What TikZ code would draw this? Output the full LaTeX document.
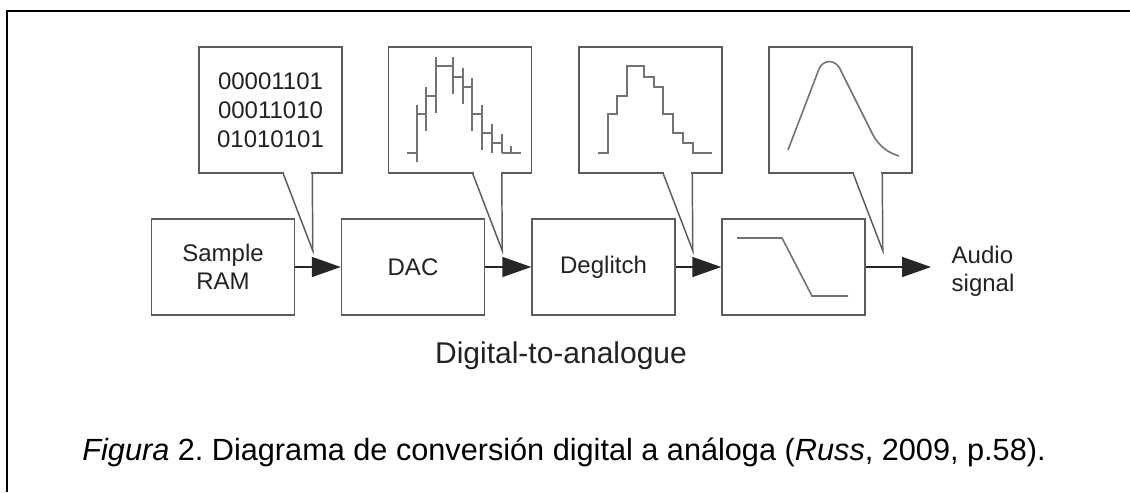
\documentclass[tikz,border=0pt]{standalone}
\usepackage{fontspec}
\setmainfont{Liberation Sans}
\frenchspacing
\usetikzlibrary{arrows.meta,calc}
\definecolor{boxgray}{rgb}{0.36,0.36,0.36}
\definecolor{curvegray}{rgb}{0.45,0.45,0.45}
\definecolor{txt}{rgb}{0.13,0.13,0.15}
\tikzset{
  blockbox/.style={draw=boxgray, line width=1.1pt, minimum width=107.25pt, minimum height=72pt, inner sep=0pt, text=txt, align=center, font=\fontsize{18}{21}\selectfont},
  bubble/.style={draw=boxgray, line width=1.1pt, minimum width=107.25pt, minimum height=94.5pt, inner sep=0pt, text=txt, align=center, font=\fontsize{18}{21.75}\selectfont},
  tailline/.style={draw=boxgray, line width=1.1pt, line join=miter},
  conn/.style={draw=black!85, line width=1.2pt, -{Triangle[length=21.75pt,width=15pt]}},
  sig/.style={draw=curvegray, line width=1.2pt},
  frame/.style={draw=black, line width=1.6pt},
}
\begin{document}
\begin{tikzpicture}[x=0.75pt,y=-0.75pt]
\useasboundingbox (0,0) rectangle (1130,492);
% outer frame (top and left)
\draw[frame] (7,492) -- (7,11) -- (1130,11);

% blocks
\node[blockbox] (ram) at (223,267) {Sample\\RAM};
\node[blockbox] (dac) at (413,267) {DAC};
\node[blockbox] (deg) at (603.5,267) {Deglitch};
\node[blockbox] (filt) at (793.5,267) {};
\coordinate (out) at (931,267);
\node[anchor=west, align=left, text=txt, font=\fontsize{18}{21}\selectfont] (audio) at (947,271) {Audio\\signal};

% connectors
\draw[conn] (ram) -- (dac);
\draw[conn] (dac) -- (deg);
\draw[conn] (deg) -- (filt);
\draw[conn] (filt) -- (out);

% bubbles
\node[bubble] (b1) at (270.5,110) {00001101\\00011010\\01010101};
\node[bubble] (b2) at (460,110) {};
\node[bubble] (b3) at (650.5,110) {};
\node[bubble] (b4) at (840.5,110) {};

\foreach \b in {b1,b2,b3,b4}{
  \draw[white, line width=2.2pt] ($(\b.south west)+(86,0)$) -- ($(\b.south west)+(113,0)$);
  \draw[tailline] ($(\b.south west)+(85,0)$) -- ($(\b.south west)+(114.5,77)$) -- ($(\b.south west)+(114,0)$);
}

% bubble 2: DAC output with glitches
\draw[sig] (407,153) -- (417,153);
\draw[sig] (417,114) -- (426,114);
\draw[sig] (426,96) -- (436,96);
\draw[sig] (436,66) -- (453,66);
\draw[sig] (453,77) -- (463,77);
\draw[sig] (463,87) -- (472,87);
\draw[sig] (472,114) -- (482,114);
\draw[sig] (482,133) -- (492,133);
\draw[sig] (492,143) -- (502,143);
\draw[sig] (502,153) -- (521,153);
\draw[sig] (417,105) -- (417,162);
\draw[sig] (426,87) -- (426,131);
\draw[sig] (436,57) -- (436,113);
\draw[sig] (453,57) -- (453,94);
\draw[sig] (463,68) -- (463,104);
\draw[sig] (472,78) -- (472,131);
\draw[sig] (482,105) -- (482,150);
\draw[sig] (492,124) -- (492,153);
\draw[sig] (502,134) -- (502,153);
\draw[sig] (511,146) -- (511,153);

% bubble 3: deglitched staircase
\draw[sig] (598,153) -- (608,153) -- (608,114) -- (617,114) -- (617,96) -- (627,96)
  -- (627,66) -- (644,66) -- (644,77) -- (654,77) -- (654,87) -- (663,87)
  -- (663,114) -- (673,114) -- (673,133) -- (683,133) -- (683,143) -- (693,143)
  -- (693,153) -- (712,153);

% bubble 4: smooth audio curve
\draw[sig] (788,150) -- (819,69) .. controls (823,60) and (833,59) .. (839,67)
  -- (873,135) .. controls (881,149) and (890,153) .. (899,156);

% filter symbol
\draw[sig] (737,238) -- (782,238) -- (812,296) -- (848,296);

% labels
\node[text=txt, font=\fontsize{22.5}{26}\selectfont] (dta) at (561,356) {Digital-to-analogue};
\node[text=black, font=\fontsize{23}{28}\selectfont] (cap) at (564,452)
  {\textit{Figura} 2. Diagrama de conversión digital a análoga (\textit{Russ}, 2009, p.58).};
\end{tikzpicture}
\end{document}
